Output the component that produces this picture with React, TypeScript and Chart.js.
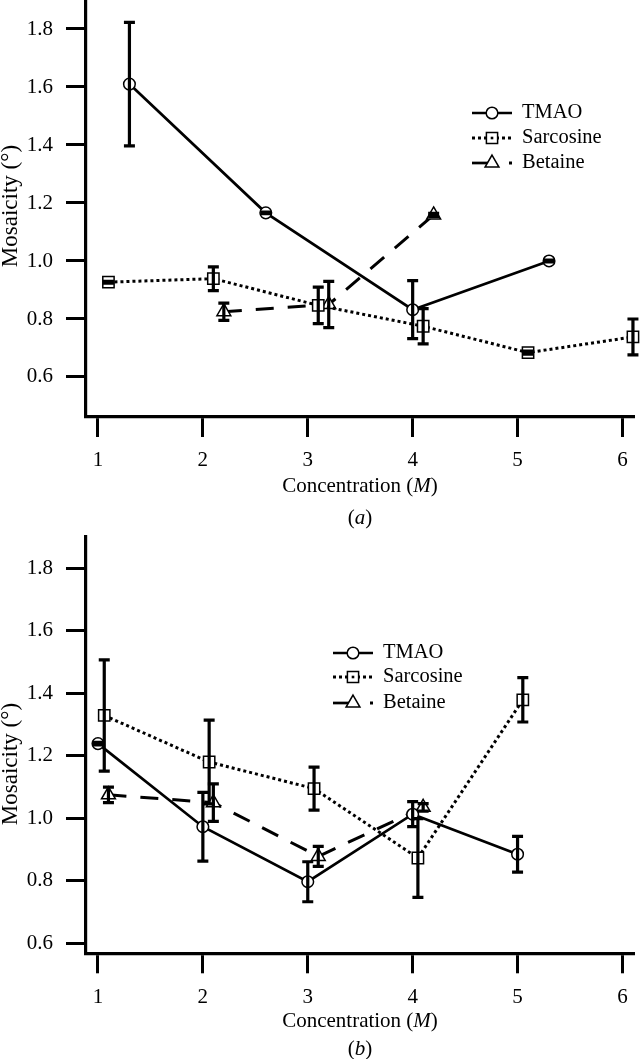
import React, { useEffect, useRef } from "react";
import { Chart, registerables } from "chart.js";
Chart.register(...registerables);

// ---------- Data ----------
const xTicks = [1, 2, 3, 4, 5, 6];
const yTicks = [0.6, 0.8, 1.0, 1.2, 1.4, 1.6, 1.8];
const seriesNames = ["TMAO", "Sarcosine", "Betaine"];

// Panel (a)
const tmaoA_x = [1.3, 2.6, 4.0, 5.3];
const tmaoA_y = [1.61, 1.166, 0.832, 1.0];
const tmaoA_err = [0.213, 0.003, 0.1, 0.003];
const sarcA_x = [1.1, 2.1, 3.1, 4.1, 5.1, 6.1];
const sarcA_y = [0.927, 0.939, 0.847, 0.775, 0.684, 0.738];
const sarcA_err = [0.003, 0.041, 0.063, 0.061, 0.005, 0.062];
const betA_x = [2.2, 3.2, 4.2];
const betA_y = [0.825, 0.85, 1.159];
const betA_err = [0.03, 0.08, 0.005];

// Panel (b)
const tmaoB_x = [1.0, 2.0, 3.0, 4.0, 5.0];
const tmaoB_y = [1.239, 0.973, 0.797, 1.013, 0.885];
const tmaoB_err = [0.004, 0.11, 0.064, 0.04, 0.057];
const sarcB_x = [1.06, 2.06, 3.06, 4.05, 5.05];
const sarcB_y = [1.329, 1.18, 1.095, 0.873, 1.379];
const sarcB_err = [0.178, 0.134, 0.069, 0.126, 0.071];
const betB_x = [1.1, 2.1, 3.1, 4.1];
const betB_y = [1.075, 1.05, 0.878, 1.035];
const betB_err = [0.025, 0.06, 0.032, 0.012];

const FONT = '"Liberation Serif", "Times New Roman", serif';

function pts(xs: number[], ys: number[]) {
  return xs.map((x, i) => ({ x, y: ys[i] }));
}

type PanelCfg = {
  top: number;
  height: number;
  padTop: number;
  xAxisHeight: number;
  yMin: number;
  caption: string;
  titleOff: number;
  captionOff: number;
  yTitleY: number;
  tickPad: number;
  legend: { x0: number; x1: number; tx: number; rows: number[] };
  series: { xs: number[]; ys: number[]; err: number[] }[];
};

const panelA: PanelCfg = {
  top: 0,
  height: 530,
  padTop: 0,
  xAxisHeight: 113,
  yMin: 0.462,
  caption: "a",
  titleOff: 69,
  captionOff: 101,
  yTitleY: 206,
  tickPad: 11,
  legend: { x0: 472, x1: 512, tx: 522, rows: [113, 138, 163] },
  series: [
    { xs: tmaoA_x, ys: tmaoA_y, err: tmaoA_err },
    { xs: sarcA_x, ys: sarcA_y, err: sarcA_err },
    { xs: betA_x, ys: betA_y, err: betA_err },
  ],
};

const panelB: PanelCfg = {
  top: 530,
  height: 529,
  padTop: 7,
  xAxisHeight: 105.7,
  yMin: 0.568,
  caption: "b",
  titleOff: 68,
  captionOff: 96,
  yTitleY: 234,
  tickPad: 12,
  legend: { x0: 333, x1: 373, tx: 383, rows: [123, 147, 173] },
  series: [
    { xs: tmaoB_x, ys: tmaoB_y, err: tmaoB_err },
    { xs: sarcB_x, ys: sarcB_y, err: sarcB_err },
    { xs: betB_x, ys: betB_y, err: betB_err },
  ],
};

function drawMixed(
  ctx: CanvasRenderingContext2D,
  parts: { t: string; it: boolean }[],
  cx: number,
  cy: number,
  size: number
) {
  const fonts = parts.map((p) => `${p.it ? "italic " : ""}${size}px ${FONT}`);
  const widths = parts.map((p, i) => {
    ctx.font = fonts[i];
    return ctx.measureText(p.t).width;
  });
  const total = widths.reduce((a, b) => a + b, 0);
  let x = cx - total / 2;
  ctx.textAlign = "left";
  ctx.textBaseline = "middle";
  parts.forEach((p, i) => {
    ctx.font = fonts[i];
    ctx.fillText(p.t, x, cy);
    x += widths[i];
  });
}

function Panel({ cfg }: { cfg: PanelCfg }) {
  const ref = useRef<HTMLCanvasElement>(null);
  useEffect(() => {
    const styles = [
      { dash: [] as number[], width: 2.7, point: "circle", r: 5.8 },
      { dash: [3, 3], width: 3, point: "rect", r: 8 },
      { dash: [18, 14], width: 3, point: "triangle", r: 8 },
    ];
    const datasets = cfg.series.map((s, i) => ({
      label: seriesNames[i],
      data: pts(s.xs, s.ys),
      borderColor: "#000",
      borderWidth: styles[i].width,
      borderDash: styles[i].dash,
      borderCapStyle: "butt" as const,
      pointStyle: styles[i].point as any,
      pointRadius: styles[i].r,
      pointBorderWidth: 1.5,
      pointBorderColor: "#000",
      pointBackgroundColor: "#fff",
      tension: 0,
      fill: false,
      clip: false as any,
    }));

    const errorBars = {
      id: "errorBars",
      afterDatasetsDraw(chart: any) {
        const { ctx } = chart;
        const xs = chart.scales.x;
        const ys = chart.scales.y;
        ctx.save();
        ctx.strokeStyle = "#000";
        ctx.lineWidth = 3.2;
        ctx.lineCap = "butt";
        ctx.setLineDash([]);
        cfg.series.forEach((s) => {
          s.xs.forEach((xv, j) => {
            const x = xs.getPixelForValue(xv);
            const yt = ys.getPixelForValue(s.ys[j] + s.err[j]);
            const yb = ys.getPixelForValue(s.ys[j] - s.err[j]);
            ctx.beginPath();
            ctx.moveTo(x, yt);
            ctx.lineTo(x, yb);
            ctx.moveTo(x - 5.5, yt);
            ctx.lineTo(x + 5.5, yt);
            ctx.moveTo(x - 5.5, yb);
            ctx.lineTo(x + 5.5, yb);
            ctx.stroke();
          });
        });
        ctx.restore();
      },
    };

    const decorations = {
      id: "decorations",
      afterDraw(chart: any) {
        const { ctx, chartArea } = chart;
        ctx.save();
        ctx.fillStyle = "#000";
        const cx = (chartArea.left + chartArea.right) / 2;
        drawMixed(
          ctx,
          [
            { t: "Concentration (", it: false },
            { t: "M", it: true },
            { t: ")", it: false },
          ],
          cx,
          chartArea.bottom + cfg.titleOff,
          21
        );
        drawMixed(
          ctx,
          [
            { t: "(", it: false },
            { t: cfg.caption, it: true },
            { t: ")", it: false },
          ],
          cx,
          chartArea.bottom + cfg.captionOff,
          21
        );
        // y title
        ctx.save();
        ctx.translate(11, cfg.yTitleY);
        ctx.rotate(-Math.PI / 2);
        ctx.font = `23px ${FONT}`;
        ctx.textAlign = "center";
        ctx.textBaseline = "middle";
        ctx.fillText("Mosaicity (°)", 0, 0);
        ctx.restore();

        // legend
        const lg = cfg.legend;
        const mx = (lg.x0 + lg.x1) / 2;
        ctx.strokeStyle = "#000";
        // TMAO
        let y = lg.rows[0];
        ctx.lineWidth = 2.7;
        ctx.beginPath();
        ctx.moveTo(lg.x0, y);
        ctx.lineTo(lg.x1, y);
        ctx.stroke();
        ctx.lineWidth = 1.5;
        ctx.beginPath();
        ctx.arc(mx, y, 5.8, 0, Math.PI * 2);
        ctx.fillStyle = "#fff";
        ctx.fill();
        ctx.stroke();
        // Sarcosine
        y = lg.rows[1];
        ctx.lineWidth = 3;
        ctx.setLineDash([3, 3]);
        ctx.beginPath();
        ctx.moveTo(lg.x0, y);
        ctx.lineTo(lg.x1, y);
        ctx.stroke();
        ctx.setLineDash([]);
        ctx.lineWidth = 1.5;
        ctx.fillStyle = "#fff";
        ctx.beginPath();
        ctx.rect(mx - 5.6, y - 5.6, 11.2, 11.2);
        ctx.fill();
        ctx.stroke();
        ctx.fillStyle = "#000";
        ctx.fillRect(mx - 1.3, y - 1.3, 2.6, 2.6);
        // Betaine
        y = lg.rows[2];
        ctx.lineWidth = 2.7;
        ctx.beginPath();
        ctx.moveTo(lg.x0, y);
        ctx.lineTo(mx - 2, y);
        ctx.stroke();
        ctx.lineWidth = 1.5;
        ctx.fillStyle = "#fff";
        ctx.beginPath();
        const r = 8;
        ctx.moveTo(mx, y - r);
        ctx.lineTo(mx + r * Math.sin((2 * Math.PI) / 3), y - r * Math.cos((2 * Math.PI) / 3));
        ctx.lineTo(mx + r * Math.sin((4 * Math.PI) / 3), y - r * Math.cos((4 * Math.PI) / 3));
        ctx.closePath();
        ctx.fill();
        ctx.stroke();
        ctx.fillStyle = "#000";
        ctx.fillRect(lg.x1 - 3, y - 1.5, 3, 3);

        ctx.font = `20.5px ${FONT}`;
        ctx.textAlign = "left";
        ctx.textBaseline = "middle";
        seriesNames.forEach((n, i) => ctx.fillText(n, lg.tx, lg.rows[i]));
        ctx.restore();
      },
    };

    const chart = new Chart(ref.current as HTMLCanvasElement, {
      type: "line",
      data: { datasets: datasets as any },
      options: {
        responsive: false,
        animation: false,
        devicePixelRatio: 1,
        layout: { autoPadding: false, padding: { top: cfg.padTop, left: 0, right: 6, bottom: 0 } },
        plugins: { legend: { display: false }, tooltip: { enabled: false } },
        scales: {
          x: {
            type: "linear",
            min: 0.886,
            max: 6.11,
            afterBuildTicks: (s: any) => {
              s.ticks = xTicks.map((v) => ({ value: v }));
            },
            afterFit: (s: any) => {
              s.height = cfg.xAxisHeight;
              s.paddingLeft = 0;
              s.paddingRight = 0;
            },
            border: { display: true, color: "#000", width: 3.2 },
            grid: {
              display: true,
              drawOnChartArea: false,
              drawTicks: true,
              tickLength: 20,
              tickWidth: 3,
              tickColor: "#000",
            },
            ticks: {
              color: "#000",
              font: { family: FONT, size: 21 },
              padding: cfg.tickPad,
              maxRotation: 0,
              autoSkip: false,
              callback: (v: any) => String(v),
            },
          },
          y: {
            type: "linear",
            min: cfg.yMin,
            max: 1.9,
            afterBuildTicks: (s: any) => {
              s.ticks = yTicks.map((v) => ({ value: v }));
            },
            afterFit: (s: any) => {
              s.width = 86;
              s.paddingTop = 0;
              s.paddingBottom = 0;
            },
            border: { display: true, color: "#000", width: 3.2 },
            grid: {
              display: true,
              drawOnChartArea: false,
              drawTicks: true,
              tickLength: 20,
              tickWidth: 3,
              tickColor: "#000",
            },
            ticks: {
              color: "#000",
              font: { family: FONT, size: 21 },
              padding: 13,
              callback: (v: any) => Number(v).toFixed(1),
            },
          },
        },
      },
      plugins: [errorBars, decorations],
    });
    return () => chart.destroy();
  }, []);
  return (
    <canvas
      ref={ref}
      width={640}
      height={cfg.height}
      style={{ position: "absolute", left: 0, top: cfg.top, width: 640, height: cfg.height }}
    />
  );
}

export default function App() {
  return (
    <div style={{ position: "absolute", left: 0, top: 0, width: 640, height: 1059, background: "#fff" }}>
      <Panel cfg={panelA} />
      <Panel cfg={panelB} />
    </div>
  );
}
